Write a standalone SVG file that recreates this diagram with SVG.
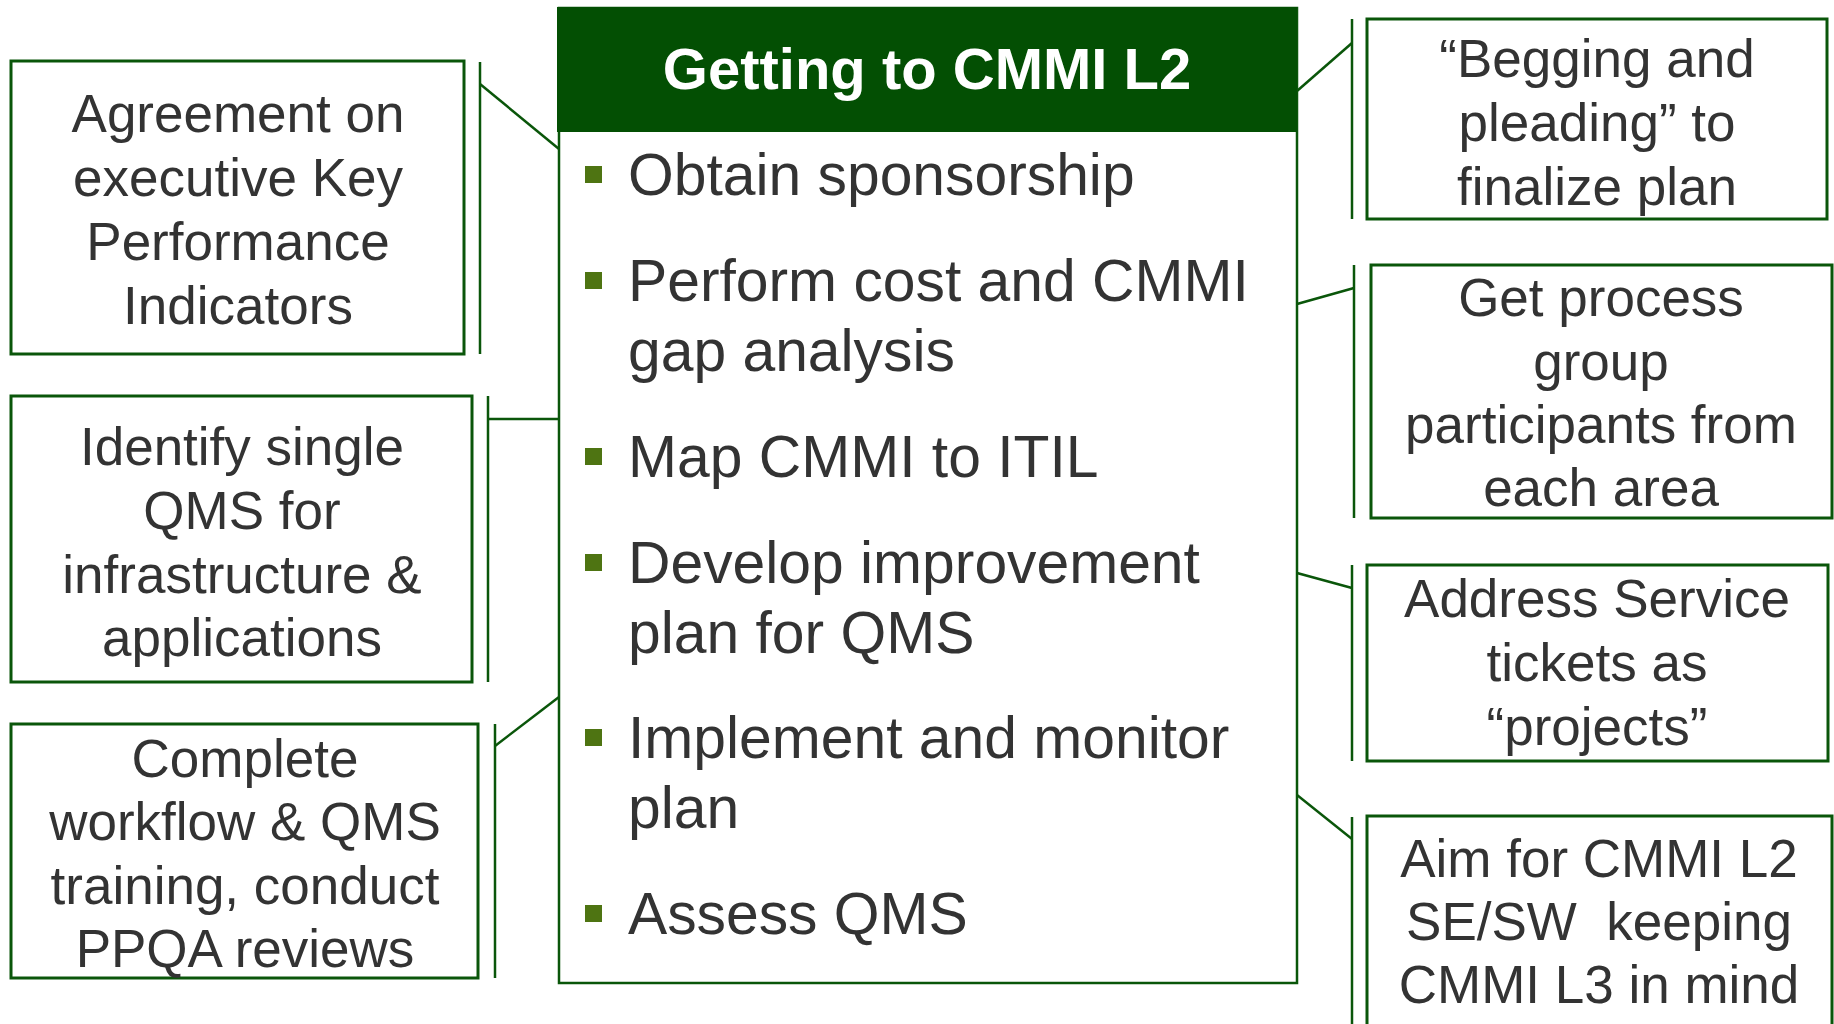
<svg xmlns="http://www.w3.org/2000/svg" width="1834" height="1024" viewBox="0 0 1834 1024">
  <style>
    .box { fill: #ffffff; stroke: #0a560a; stroke-width: 3; }
    .bar { stroke: #0a560a; stroke-width: 2.5; fill: none; }
    .link { stroke: #0a560a; stroke-width: 2.5; fill: none; }
    .side { font-family: "Liberation Sans", Arial, sans-serif; font-size: 53px; fill: #333333; text-anchor: middle; }
    .item { font-family: "Liberation Sans", Arial, sans-serif; font-size: 58.8px; fill: #333333; }
    .bullet { fill: #4e7412; }
    .title { font-family: "Liberation Sans", Arial, sans-serif; font-size: 58px; font-weight: bold; fill: #ffffff; text-anchor: middle; }
  </style>
  <rect width="1834" height="1024" fill="#ffffff"/>

  <!-- connectors from the central list to the side notes -->
  <g id="connectors">
    <line class="link" x1="480" y1="84" x2="559" y2="149"/>
    <line class="link" x1="488" y1="419" x2="559" y2="419"/>
    <line class="link" x1="495" y1="746" x2="559" y2="697"/>
    <line class="link" x1="1297" y1="91" x2="1352" y2="43"/>
    <line class="link" x1="1297" y1="304" x2="1354" y2="288"/>
    <line class="link" x1="1297" y1="573" x2="1352" y2="588"/>
    <line class="link" x1="1297" y1="795" x2="1352" y2="839"/>
  </g>

  <!-- central list -->
  <g id="center">
    <rect x="559" y="8" width="738" height="975" fill="#ffffff" stroke="#0a560a" stroke-width="2.5"/>
    <rect x="557" y="7" width="740" height="125" fill="#034f03"/>
    <text class="title" x="927" y="89">Getting to CMMI L2</text>
    <rect class="bullet" x="585" y="166" width="17" height="17"/>
    <text class="item" x="628" y="195">Obtain sponsorship</text>
    <rect class="bullet" x="585" y="272" width="17" height="17"/>
    <text class="item" x="628" y="301">Perform cost and CMMI</text>
    <text class="item" x="628" y="371">gap analysis</text>
    <rect class="bullet" x="585" y="448" width="17" height="17"/>
    <text class="item" x="628" y="477">Map CMMI to ITIL</text>
    <rect class="bullet" x="585" y="554" width="17" height="17"/>
    <text class="item" x="628" y="583">Develop improvement</text>
    <text class="item" x="628" y="653">plan for QMS</text>
    <rect class="bullet" x="585" y="729" width="17" height="17"/>
    <text class="item" x="628" y="758">Implement and monitor</text>
    <text class="item" x="628" y="828">plan</text>
    <rect class="bullet" x="585" y="905" width="17" height="17"/>
    <text class="item" x="628" y="934">Assess QMS</text>
  </g>

  <!-- left notes -->
  <g id="note-kpi">
    <rect class="box" x="11" y="61" width="453" height="293"/>
    <line class="bar" x1="480" y1="62" x2="480" y2="354"/>
    <text class="side" x="238" y="132">Agreement on</text>
    <text class="side" x="238" y="196">executive Key</text>
    <text class="side" x="238" y="260">Performance</text>
    <text class="side" x="238" y="324">Indicators</text>
  </g>
  <g id="note-qms">
    <rect class="box" x="11" y="396" width="461" height="286"/>
    <line class="bar" x1="488" y1="396" x2="488" y2="682"/>
    <text class="side" x="242" y="465">Identify single</text>
    <text class="side" x="242" y="529">QMS for</text>
    <text class="side" x="242" y="593">infrastructure &amp;</text>
    <text class="side" x="242" y="656">applications</text>
  </g>
  <g id="note-training">
    <rect class="box" x="11" y="724" width="467" height="254"/>
    <line class="bar" x1="495" y1="724" x2="495" y2="978"/>
    <text class="side" x="245" y="777">Complete</text>
    <text class="side" x="245" y="840">workflow &amp; QMS</text>
    <text class="side" x="245" y="904">training, conduct</text>
    <text class="side" x="245" y="967">PPQA reviews</text>
  </g>

  <!-- right notes -->
  <g id="note-plan">
    <rect class="box" x="1367" y="19" width="460" height="200"/>
    <line class="bar" x1="1352" y1="19" x2="1352" y2="219"/>
    <text class="side" x="1597" y="77">“Begging and</text>
    <text class="side" x="1597" y="141">pleading” to</text>
    <text class="side" x="1597" y="205">finalize plan</text>
  </g>
  <g id="note-participants">
    <rect class="box" x="1371" y="265" width="461" height="253"/>
    <line class="bar" x1="1354" y1="265" x2="1354" y2="518"/>
    <text class="side" x="1601" y="316">Get process</text>
    <text class="side" x="1601" y="380">group</text>
    <text class="side" x="1601" y="443">participants from</text>
    <text class="side" x="1601" y="506">each area</text>
  </g>
  <g id="note-tickets">
    <rect class="box" x="1367" y="565" width="461" height="196"/>
    <line class="bar" x1="1352" y1="565" x2="1352" y2="761"/>
    <text class="side" x="1597" y="617">Address Service</text>
    <text class="side" x="1597" y="681">tickets as</text>
    <text class="side" x="1597" y="745">“projects”</text>
  </g>
  <g id="note-target">
    <rect class="box" x="1367" y="816" width="465" height="220"/>
    <line class="bar" x1="1352" y1="817" x2="1352" y2="1024"/>
    <text class="side" x="1599" y="877">Aim for CMMI L2</text>
    <text class="side" x="1599" y="940" xml:space="preserve">SE/SW  keeping</text>
    <text class="side" x="1599" y="1003">CMMI L3 in mind</text>
  </g>
</svg>
